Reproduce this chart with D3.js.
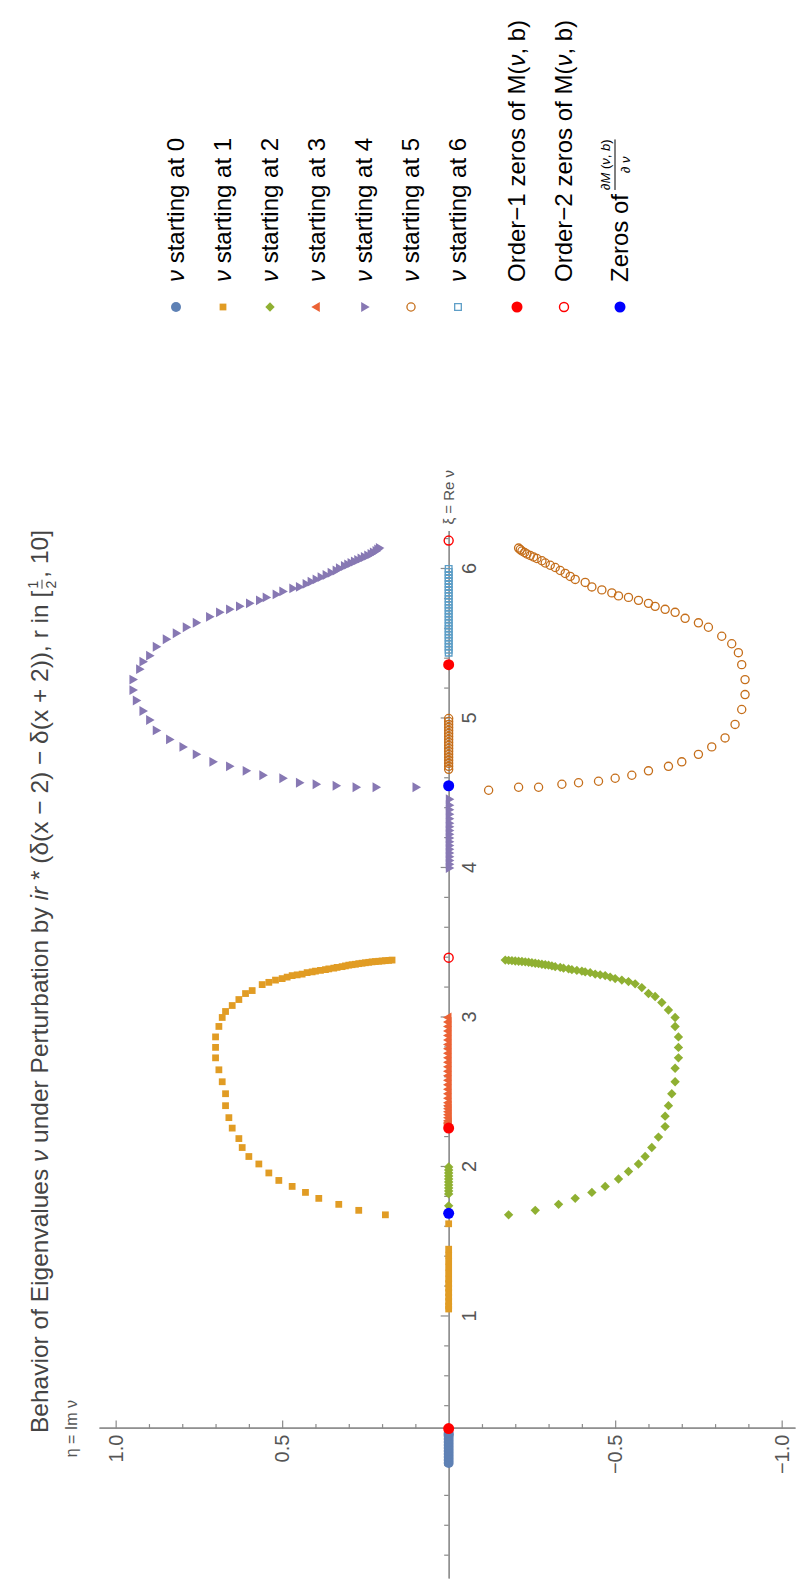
<!DOCTYPE html>
<html>
<head>
<meta charset="utf-8">
<script src="https://cdn.jsdelivr.net/npm/d3@7"></script>
<style>
  html, body { margin: 0; padding: 0; background: #fff; }
  svg { display: block; }
  text { font-family: "Liberation Sans", Arial, sans-serif; }
</style>
</head>
<body>
<div id="chart"></div>
<script>
// ---- data: [xi = Re v, eta = Im v] ----
const start0 = [[0.02,0],[0.04,0],[0.06,0],[0.08,0],[0.10,0],[0.12,0],[0.14,0],[0.16,0],[0.18,0],[0.20,0],[0.21,0],[0.22,0]];

const start1 = [[1.05,0],[1.07,0],[1.10,0],[1.13,0],[1.16,0],[1.19,0],[1.22,0],[1.25,0],[1.29,0],[1.33,0],[1.37,0],[1.41,0],[1.45,0],[1.62,0],
  [1.68,0.19],[1.71,0.27],[1.75,0.33],[1.79,0.39],[1.83,0.43],[1.87,0.47],[1.91,0.51],[1.96,0.54],[2.02,0.57],[2.07,0.60],
  [2.13,0.62],[2.19,0.63],[2.26,0.65],[2.33,0.66],[2.41,0.67],[2.49,0.67],[2.57,0.68],[2.65,0.69],[2.73,0.70],[2.80,0.70],
  [2.87,0.70],[2.94,0.69],[3.00,0.68],[3.04,0.67],[3.08,0.65],[3.12,0.63],[3.16,0.61],[3.18,0.59],[3.22,0.56],[3.235,0.54],
  [3.25,0.52],[3.26,0.50],[3.27,0.485],[3.28,0.47],[3.285,0.455],[3.29,0.44],[3.30,0.425],[3.305,0.41],[3.31,0.40],[3.315,0.385],
  [3.32,0.37],[3.325,0.36],[3.33,0.345],[3.335,0.335],[3.34,0.32],[3.345,0.31],[3.35,0.30],[3.353,0.29],[3.356,0.28],[3.36,0.27],
  [3.363,0.26],[3.366,0.25],[3.369,0.24],[3.372,0.23],[3.374,0.22],[3.376,0.21],[3.378,0.20],[3.38,0.19],[3.382,0.18],[3.384,0.17]];

const start2 = [[2.00,0],[1.98,0],[1.96,0],[1.94,0],[1.92,0],[1.90,0],[1.88,0],[1.86,0],[1.84,0],[1.82,0],[1.74,0],
  [1.68,-0.18],[1.71,-0.26],[1.75,-0.33],[1.79,-0.38],[1.83,-0.43],[1.87,-0.47],[1.92,-0.51],[1.97,-0.54],[2.02,-0.57],[2.07,-0.59],
  [2.13,-0.61],[2.20,-0.63],[2.27,-0.65],[2.34,-0.65],[2.41,-0.66],[2.49,-0.67],[2.57,-0.68],[2.66,-0.68],[2.73,-0.69],[2.80,-0.69],
  [2.87,-0.69],[2.94,-0.68],[3.00,-0.68],[3.05,-0.66],[3.10,-0.64],[3.14,-0.62],[3.16,-0.60],[3.20,-0.58],[3.225,-0.56],[3.24,-0.54],
  [3.25,-0.52],[3.26,-0.50],[3.27,-0.485],[3.28,-0.47],[3.285,-0.455],[3.29,-0.44],[3.30,-0.425],[3.305,-0.41],[3.31,-0.40],[3.315,-0.385],
  [3.32,-0.37],[3.325,-0.36],[3.33,-0.345],[3.335,-0.335],[3.34,-0.32],[3.345,-0.31],[3.35,-0.30],[3.353,-0.29],[3.356,-0.28],[3.36,-0.27],
  [3.363,-0.26],[3.366,-0.25],[3.369,-0.24],[3.372,-0.23],[3.374,-0.22],[3.376,-0.21],[3.378,-0.20],[3.38,-0.19],[3.382,-0.18],[3.384,-0.17]];

const start3 = [[3.00,0],[2.97,0],[2.94,0],[2.91,0],[2.88,0],[2.85,0],[2.82,0],[2.79,0],[2.76,0],[2.73,0],[2.70,0],[2.67,0],[2.64,0],
  [2.61,0],[2.58,0],[2.55,0],[2.52,0],[2.49,0],[2.46,0],[2.43,0],[2.41,0],[2.39,0],[2.37,0],[2.35,0],[2.33,0],[2.31,0],[2.30,0],[2.29,0],[2.28,0]];

const start4 = [[4.00,0],[4.025,0],[4.05,0],[4.075,0],[4.10,0],[4.125,0],[4.15,0],[4.175,0],[4.20,0],[4.225,0],[4.25,0],[4.275,0],
  [4.30,0],[4.33,0],[4.36,0],[4.39,0],[4.42,0],[4.46,0],
  [4.54,0.10],[4.54,0.22],[4.54,0.28],[4.55,0.34],[4.56,0.40],[4.57,0.45],[4.60,0.50],[4.62,0.56],[4.65,0.61],[4.68,0.66],
  [4.71,0.71],[4.76,0.76],[4.81,0.80],[4.86,0.84],[4.92,0.88],[4.99,0.90],[5.05,0.92],[5.12,0.94],[5.19,0.95],[5.26,0.95],
  [5.33,0.93],[5.38,0.92],[5.42,0.90],[5.48,0.88],[5.53,0.85],[5.57,0.82],[5.61,0.79],[5.64,0.76],[5.68,0.72],[5.71,0.69],
  [5.73,0.66],[5.75,0.63],[5.77,0.60],[5.79,0.57],[5.81,0.55],[5.83,0.52],[5.85,0.50],[5.87,0.47],[5.88,0.45],[5.90,0.43],
  [5.915,0.415],[5.93,0.40],[5.945,0.385],[5.96,0.37],[5.975,0.355],[5.99,0.34],[6.005,0.33],[6.02,0.315],[6.03,0.305],[6.04,0.295],
  [6.05,0.285],[6.06,0.275],[6.07,0.265],[6.08,0.255],[6.09,0.245],[6.10,0.235],[6.11,0.228],[6.12,0.22],[6.13,0.215],[6.14,0.21]];

const start5 = [[5.00,0],[4.98,0],[4.96,0],[4.94,0],[4.92,0],[4.90,0],[4.88,0],[4.86,0],[4.84,0],[4.82,0],[4.80,0],[4.78,0],
  [4.76,0],[4.74,0],[4.72,0],[4.70,0],[4.68,0],[4.66,0],
  [4.52,-0.12],[4.54,-0.21],[4.54,-0.27],[4.56,-0.34],[4.57,-0.39],[4.58,-0.45],[4.60,-0.50],[4.62,-0.55],[4.65,-0.60],[4.68,-0.66],
  [4.71,-0.70],[4.76,-0.75],[4.81,-0.79],[4.87,-0.83],[4.96,-0.86],[5.06,-0.88],[5.16,-0.89],[5.26,-0.89],[5.36,-0.88],[5.44,-0.87],
  [5.50,-0.85],[5.55,-0.82],[5.61,-0.78],[5.64,-0.75],[5.67,-0.71],[5.71,-0.68],[5.73,-0.65],[5.75,-0.62],[5.77,-0.60],[5.79,-0.57],
  [5.81,-0.54],[5.82,-0.51],[5.84,-0.49],[5.86,-0.46],[5.88,-0.43],[5.91,-0.41],[5.93,-0.38],[5.95,-0.365],[5.97,-0.35],[5.99,-0.335],
  [6.01,-0.32],[6.025,-0.305],[6.04,-0.29],[6.055,-0.28],[6.07,-0.265],[6.08,-0.255],[6.09,-0.245],[6.10,-0.235],[6.11,-0.228],[6.12,-0.22],
  [6.13,-0.215],[6.14,-0.21]];

const start6 = [[6.00,0],[5.98,0],[5.96,0],[5.94,0],[5.92,0],[5.90,0],[5.88,0],[5.86,0],[5.84,0],[5.82,0],[5.80,0],[5.78,0],
  [5.76,0],[5.74,0],[5.72,0],[5.70,0],[5.68,0],[5.66,0],[5.64,0],[5.62,0],[5.60,0],[5.58,0],[5.56,0],[5.54,0],[5.52,0],
  [5.50,0],[5.48,0],[5.46,0],[5.44,0]];

const order1Zeros = [0.25, 2.26, 5.36];
const order2Zeros = [3.40, 6.19];
const derivZeros = [1.69, 4.55];

const seriesLabels = ["0", "1", "2", "3", "4", "5", "6"];
const xiTicks = [1, 2, 3, 4, 5, 6];
const etaTicks = [1.0, 0.5, -0.5, -1.0];
const axisCrossXi = 0.25;

// ---- styling ----
const colors = ["#5E81B5", "#E19C24", "#8FB032", "#EB6235", "#8778B3", "#C56E1A", "#5D9EC7"];
const shapes = ["circle", "square", "diamond", "triUp", "triDown", "openCircle", "openSquare"];
const seriesData = [start0, start1, start2, start3, start4, start5, start6];

const pageW = 796, pageH = 1579;
// chart is drawn landscape (pageH x pageW) then turned a quarter counter-clockwise
const svg = d3.select("#chart").append("svg")
    .attr("width", pageW)
    .attr("height", pageH);

const g = svg.append("g")
    .attr("transform", `translate(0,${pageH}) rotate(-90)`);

const x = d3.scaleLinear().domain([-0.756, 6.25]).range([0, 1047.4]);
const y = d3.scaleLinear().domain([-1.04, 1.05]).range([795, 99]);

function symbolPath(shape) {
    switch (shape) {
        case "circle": return d3.symbol(d3.symbolCircle, 78)();
        case "square": return d3.symbol(d3.symbolSquare, 46)();
        case "diamond": return d3.symbol(d3.symbolSquare, 44)();
        case "triUp": return d3.symbol(d3.symbolTriangle, 42)();
        case "triDown": return d3.symbol(d3.symbolTriangle, 42)();
        case "openCircle": return d3.symbol(d3.symbolCircle, 52)();
        case "openSquare": return d3.symbol(d3.symbolSquare, 44)();
    }
}
function rot(shape) {
    if (shape === "diamond") return " rotate(45)";
    if (shape === "triDown") return " rotate(180)";
    return "";
}
function styleMarker(sel, shape, color) {
    const open = shape.startsWith("open");
    sel.attr("fill", open ? "none" : color)
       .attr("stroke", open ? color : "none")
       .attr("stroke-width", open ? 1.3 : 0);
}

// ---- axes ----
const axisColor = "#8a8a8a";
const labelColor = "#555";

const xiMinor = d3.range(-0.6, 6.21, 0.2).map(v => +v.toFixed(1)).filter(v => !xiTicks.includes(v));
const xAxisG = g.append("g").attr("transform", `translate(0,${y(0)})`);
xAxisG.append("g")
    .call(d3.axisBottom(x).tickValues(xiMinor).tickSize(-4.5).tickSizeOuter(0).tickFormat(""));
xAxisG.append("g")
    .call(d3.axisBottom(x).tickValues(xiTicks).tickSize(-8).tickSizeOuter(0).tickPadding(13).tickFormat(d3.format("d")));

const etaMinor = d3.range(-1.0, 1.01, 0.1).map(v => +v.toFixed(1)).filter(v => !etaTicks.includes(v) && v !== 0);
const yAxisG = g.append("g").attr("transform", `translate(${x(axisCrossXi)},0)`);
yAxisG.append("g")
    .call(d3.axisLeft(y).tickValues(etaMinor).tickSize(-4.5).tickSizeOuter(0).tickFormat(""));
yAxisG.append("g")
    .call(d3.axisLeft(y).tickValues(etaTicks).tickSize(-8).tickSizeOuter(0).tickPadding(6).tickFormat(d3.format(".1f")));

g.selectAll(".domain, .tick line").attr("stroke", axisColor).attr("stroke-width", 1.2);
g.selectAll(".tick text").attr("fill", labelColor).attr("font-size", 20)
    .attr("font-family", "Liberation Sans, Arial, sans-serif");

// axis labels
g.append("text")
    .attr("x", x(6.25) + 7).attr("y", y(0)).attr("dy", "0.35em")
    .attr("font-size", 15).attr("fill", labelColor)
    .text("ξ = Re ν");
g.append("text")
    .attr("x", x(axisCrossXi)).attr("y", y(1.05) - 22)
    .attr("text-anchor", "middle")
    .attr("font-size", 16).attr("fill", labelColor)
    .text("η = Im ν");

// ---- data points ----
seriesData.forEach((data, i) => {
    const path = symbolPath(shapes[i]);
    g.append("g").selectAll("path")
        .data(data)
        .join("path")
        .attr("d", path)
        .attr("transform", d => `translate(${x(d[0])},${y(d[1])})${rot(shapes[i])}`)
        .call(styleMarker, shapes[i], colors[i]);
});

// special points
g.append("g").selectAll("circle")
    .data(order1Zeros)
    .join("circle")
    .attr("cx", d => x(d)).attr("cy", y(0)).attr("r", 5.5)
    .attr("fill", "#FF0000");
g.append("g").selectAll("circle")
    .data(order2Zeros)
    .join("circle")
    .attr("cx", d => x(d)).attr("cy", y(0)).attr("r", 4.5)
    .attr("fill", "none").attr("stroke", "#FF0000").attr("stroke-width", 1.4);
g.append("g").selectAll("circle")
    .data(derivZeros)
    .join("circle")
    .attr("cx", d => x(d)).attr("cy", y(0)).attr("r", 5.5)
    .attr("fill", "#0000FF");

// ---- title ----
const titleSize = 24.5;
const titleX = 146;
const title = g.append("text")
    .attr("x", titleX).attr("y", 48)
    .attr("font-size", titleSize).attr("fill", "#444");
title.append("tspan").text("Behavior of Eigenvalues ");
title.append("tspan").attr("font-style", "italic").text("ν");
title.append("tspan").text(" under Perturbation by ");
title.append("tspan").attr("font-style", "italic").text("ir");
title.append("tspan").text(" *  (δ(x − 2) − δ(x + 2)), r in [");
const tLen = title.node().getComputedTextLength();
const fx = titleX + tLen + 1;
g.append("text").attr("x", fx + 5).attr("y", 38).attr("text-anchor", "middle")
    .attr("font-size", 14).attr("fill", "#444").text("1");
g.append("line").attr("x1", fx + 1).attr("x2", fx + 10).attr("y1", 42).attr("y2", 42)
    .attr("stroke", "#444").attr("stroke-width", 1);
g.append("text").attr("x", fx + 5).attr("y", 56).attr("text-anchor", "middle")
    .attr("font-size", 14).attr("fill", "#444").text("2");
g.append("text").attr("x", fx + 12).attr("y", 48)
    .attr("font-size", titleSize).attr("fill", "#444").text(", 10]");

// ---- legend ----
const legendX = 1272;
const legendTextX = 1297;
const legendFont = 24;
const rowY = i => 176 + 47 * i;

const legend = g.append("g");
seriesLabels.forEach((lab, i) => {
    const row = legend.append("g");
    row.append("path")
        .attr("d", symbolPath(shapes[i]))
        .attr("transform", `translate(${legendX},${rowY(i)})${rot(shapes[i])}`)
        .call(styleMarker, shapes[i], colors[i]);
    const t = row.append("text")
        .attr("x", legendTextX).attr("y", rowY(i)).attr("dy", "0.35em")
        .attr("font-size", legendFont).attr("fill", "#000");
    t.append("tspan").attr("font-style", "italic").text("ν");
    t.append("tspan").text(" starting at " + lab);
});

const zeroRows = [
    {y: 517, fill: "#FF0000", stroke: "none", text: "Order−1 zeros of M("},
    {y: 564, fill: "none", stroke: "#FF0000", text: "Order−2 zeros of M("},
];
zeroRows.forEach(r => {
    legend.append("circle")
        .attr("cx", legendX).attr("cy", r.y).attr("r", r.fill === "none" ? 4.5 : 5.5)
        .attr("fill", r.fill).attr("stroke", r.stroke).attr("stroke-width", 1.4);
    const t = legend.append("text")
        .attr("x", legendTextX).attr("y", r.y).attr("dy", "0.35em")
        .attr("font-size", legendFont).attr("fill", "#000");
    t.append("tspan").text(r.text);
    t.append("tspan").attr("font-style", "italic").text("ν");
    t.append("tspan").text(", b)");
});

legend.append("circle")
    .attr("cx", legendX).attr("cy", 620).attr("r", 5.5).attr("fill", "#0000FF");
const zt = legend.append("text")
    .attr("x", legendTextX).attr("y", 620).attr("dy", "0.35em")
    .attr("font-size", legendFont).attr("fill", "#000").text("Zeros of");
const zx = legendTextX + zt.node().getComputedTextLength() + 4;
const num = legend.append("text")
    .attr("x", zx).attr("y", 610)
    .attr("font-size", 13).attr("fill", "#000");
num.append("tspan").attr("font-style", "italic").text("∂M");
num.append("tspan").text(" (");
num.append("tspan").attr("font-style", "italic").text("ν");
num.append("tspan").text(", ");
num.append("tspan").attr("font-style", "italic").text("b");
num.append("tspan").text(")");
const numLen = num.node().getComputedTextLength();
legend.append("line")
    .attr("x1", zx).attr("x2", zx + numLen).attr("y1", 615).attr("y2", 615)
    .attr("stroke", "#000").attr("stroke-width", 1);
legend.append("text")
    .attr("x", zx + numLen / 2).attr("y", 630).attr("text-anchor", "middle")
    .attr("font-size", 13).attr("font-style", "italic").attr("fill", "#000")
    .text("∂ ν");
</script>
</body>
</html>
